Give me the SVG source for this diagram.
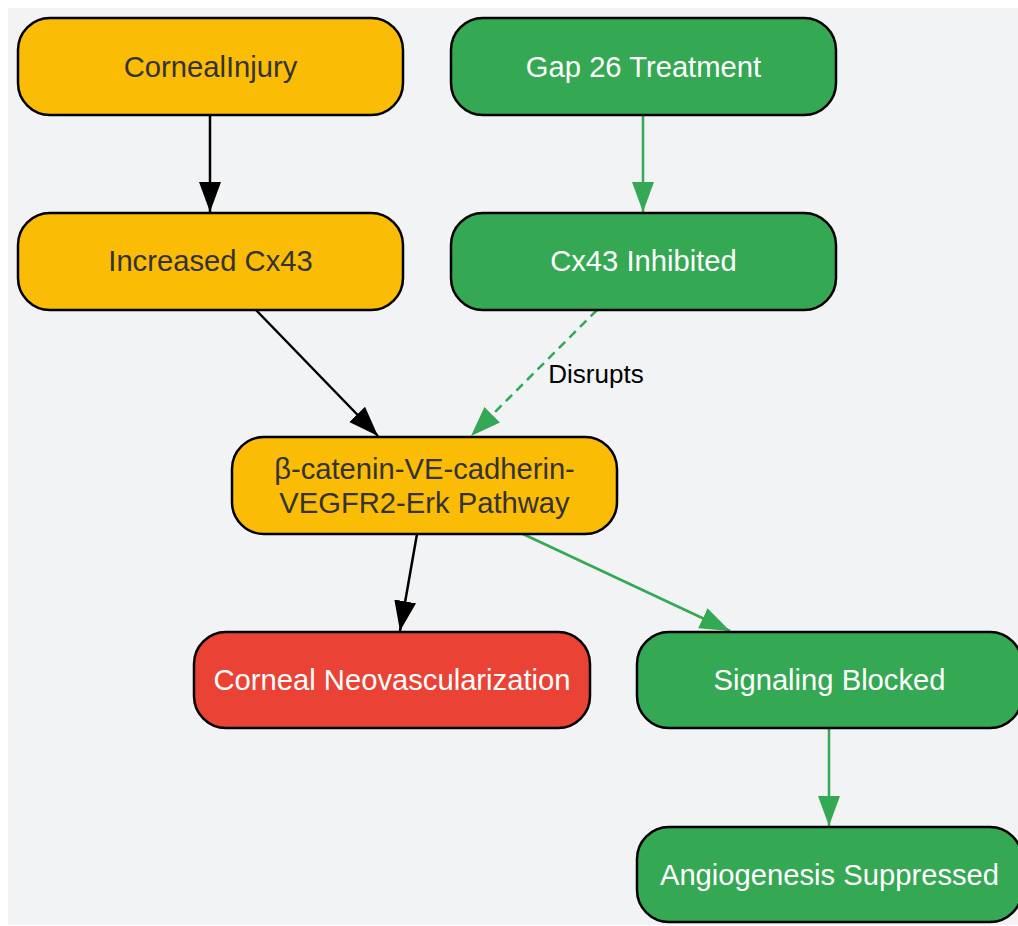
<svg xmlns="http://www.w3.org/2000/svg" width="1018" height="926" viewBox="0 0 1018 926">
  <defs>
    <style>
      .node rect { stroke: #000; stroke-width: 2.5; }
      .yellow rect { fill: #FBBC05; }
      .green rect { fill: #34A853; }
      .red rect { fill: #EA4335; }
      .node text { font-family: "Liberation Sans", Arial, sans-serif; font-size: 29.2px; text-anchor: middle; }
      .yellow text { fill: #333333; }
      .green text, .red text { fill: #FFFFFF; }
      .edge { fill: none; stroke-width: 2.5; }
      .black { stroke: #000; }
      .gr { stroke: #34A853; }
      .dashed { stroke-dasharray: 9 6; }
      .elabel { font-family: "Liberation Sans", Arial, sans-serif; font-size: 26px; fill: #000; text-anchor: middle; }
    </style>
    <marker id="arrowBlack" markerUnits="userSpaceOnUse" markerWidth="32" markerHeight="24" refX="30" refY="11" orient="auto">
      <path d="M0,0 L30,11 L0,22 z" fill="#000"/>
    </marker>
    <marker id="arrowGreen" markerUnits="userSpaceOnUse" markerWidth="32" markerHeight="24" refX="30" refY="11" orient="auto">
      <path d="M0,0 L30,11 L0,22 z" fill="#34A853"/>
    </marker>
  </defs>

  <rect x="8" y="8" width="1012" height="917" fill="#F1F3F5"/>

  <g id="connectors">
    <line class="edge black" x1="210" y1="115" x2="210" y2="212" marker-end="url(#arrowBlack)"/>
    <line class="edge gr" x1="643" y1="115" x2="643" y2="212" marker-end="url(#arrowGreen)"/>
    <line class="edge black" x1="256" y1="310" x2="378" y2="436" marker-end="url(#arrowBlack)"/>
    <line class="edge gr dashed" x1="597" y1="310" x2="471" y2="436" marker-end="url(#arrowGreen)"/>
    <text class="elabel" x="596" y="383">Disrupts</text>
    <line class="edge black" x1="417" y1="534" x2="400" y2="631" marker-end="url(#arrowBlack)"/>
    <line class="edge gr" x1="523" y1="534" x2="730" y2="631" marker-end="url(#arrowGreen)"/>
    <line class="edge gr" x1="829" y1="728" x2="829" y2="826" marker-end="url(#arrowGreen)"/>
  </g>

  <g id="cornealInjury" class="node yellow">
    <rect x="18" y="18" width="385" height="97" rx="32" ry="32"/>
    <text x="210.5" y="77">CornealInjury</text>
  </g>
  <g id="gap26" class="node green">
    <rect x="451" y="18" width="385" height="97" rx="32" ry="32"/>
    <text x="643.5" y="77">Gap 26 Treatment</text>
  </g>
  <g id="increasedCx43" class="node yellow">
    <rect x="18" y="213" width="385" height="97" rx="32" ry="32"/>
    <text x="210.5" y="271">Increased Cx43</text>
  </g>
  <g id="cx43Inhibited" class="node green">
    <rect x="451" y="213" width="385" height="97" rx="32" ry="32"/>
    <text x="643.5" y="271">Cx43 Inhibited</text>
  </g>
  <g id="pathway" class="node yellow">
    <rect x="232" y="437" width="385" height="97" rx="32" ry="32"/>
    <text x="424.5" y="479">β-catenin-VE-cadherin-</text>
    <text x="424.5" y="513">VEGFR2-Erk Pathway</text>
  </g>
  <g id="neovascularization" class="node red">
    <rect x="194" y="632" width="396" height="96" rx="32" ry="32"/>
    <text x="392" y="690">Corneal Neovascularization</text>
  </g>
  <g id="signalingBlocked" class="node green">
    <rect x="637" y="632" width="385" height="96" rx="32" ry="32"/>
    <text x="829.5" y="690">Signaling Blocked</text>
  </g>
  <g id="angiogenesisSuppressed" class="node green">
    <rect x="637" y="827" width="385" height="95" rx="32" ry="32"/>
    <text x="829.5" y="885">Angiogenesis Suppressed</text>
  </g>
</svg>
